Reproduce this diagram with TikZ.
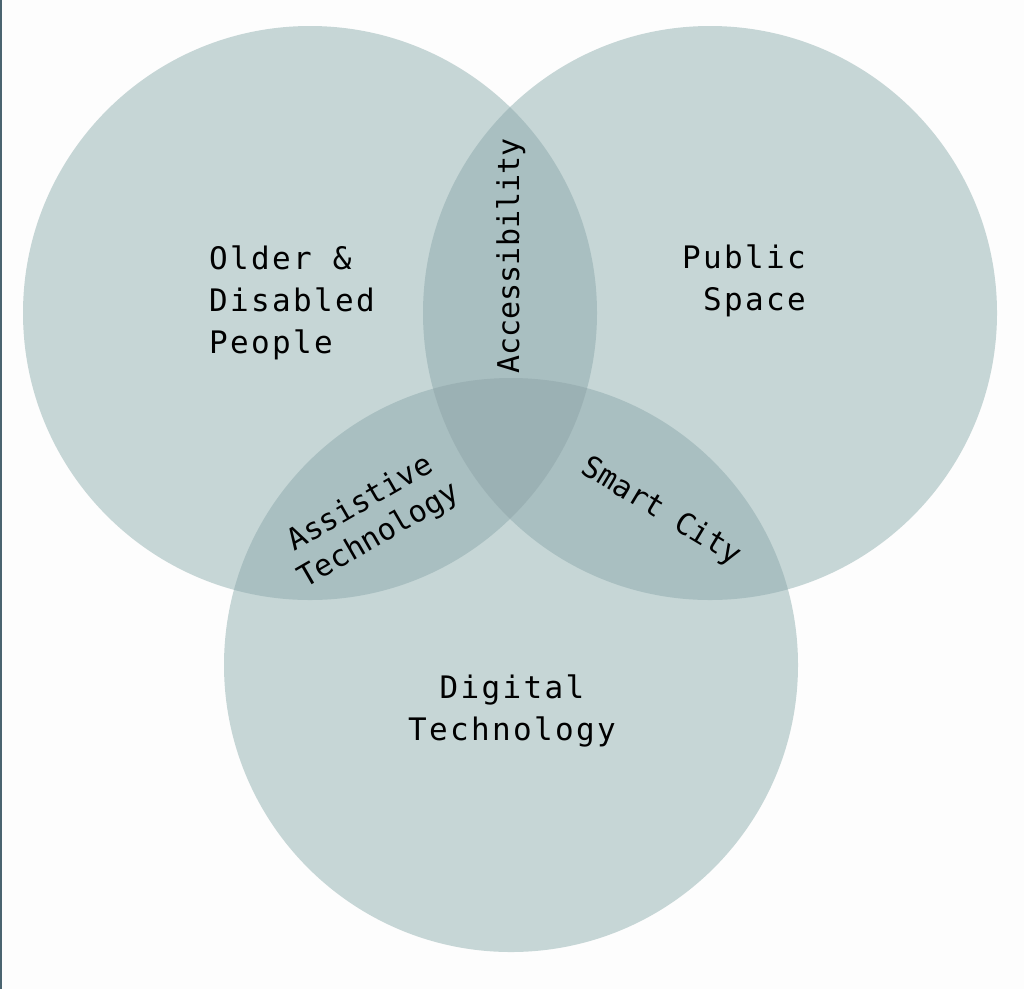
\documentclass[tikz,border=0pt]{standalone}
\usepackage{fontspec}
\newfontfamily\mainlab[LetterSpace=7.5]{DejaVu Sans Mono}
\newfontfamily\sublab{DejaVu Sans Mono}
\definecolor{bgcol}{HTML}{FDFDFD}
\definecolor{edgecol}{HTML}{4A6470}
\definecolor{onecol}{HTML}{C6D6D6}
\definecolor{twocol}{HTML}{A9BFC1}
\definecolor{threecol}{HTML}{9BB1B4}
\tikzset{
  biglabel/.style={font=\mainlab\fontsize{31}{42}\selectfont, inner sep=0pt, text=black},
  smalllabel/.style={font=\sublab\fontsize{30}{37}\selectfont, inner sep=0pt, text=black},
}
\begin{document}
\begin{tikzpicture}[x=1pt,y=-1pt]
\fill[bgcol] (0,0) rectangle (1024,989);
\useasboundingbox (0,0) rectangle (1024,989);
\fill[edgecol] (0,0) rectangle (2,989);
\coordinate (cA) at (310,313);
\coordinate (cB) at (710,313);
\coordinate (cC) at (511,665);
\def\rr{287}
% single
\fill[onecol] (cA) circle[radius=\rr];
\fill[onecol] (cB) circle[radius=\rr];
\fill[onecol] (cC) circle[radius=\rr];
% pairs
\begin{scope}\clip (cA) circle[radius=\rr]; \fill[twocol] (cB) circle[radius=\rr]; \end{scope}
\begin{scope}\clip (cA) circle[radius=\rr]; \fill[twocol] (cC) circle[radius=\rr]; \end{scope}
\begin{scope}\clip (cB) circle[radius=\rr]; \fill[twocol] (cC) circle[radius=\rr]; \end{scope}
% triple
\begin{scope}\clip (cA) circle[radius=\rr]; \clip (cB) circle[radius=\rr]; \fill[threecol] (cC) circle[radius=\rr]; \end{scope}
% labels (base anchor = baseline of last line)
\node[biglabel, align=left, anchor=base west] (older) at (209,353) {Older \&\\Disabled\\People};
\node[biglabel, align=right, anchor=base east] (public) at (806,310) {Public\\Space};
\node[biglabel, align=center, anchor=base] (digital) at (512,740) {Digital\\Technology};
\node[smalllabel, rotate=90, anchor=base] (access) at (519,256) {Accessibility};
\node[smalllabel, align=center, rotate=30, anchor=center] (assist) at (370,520) {Assistive\\Technology};
\node[smalllabel, rotate=-31, anchor=base] (smart) at (657,519) {Smart City};
\end{tikzpicture}
\end{document}
